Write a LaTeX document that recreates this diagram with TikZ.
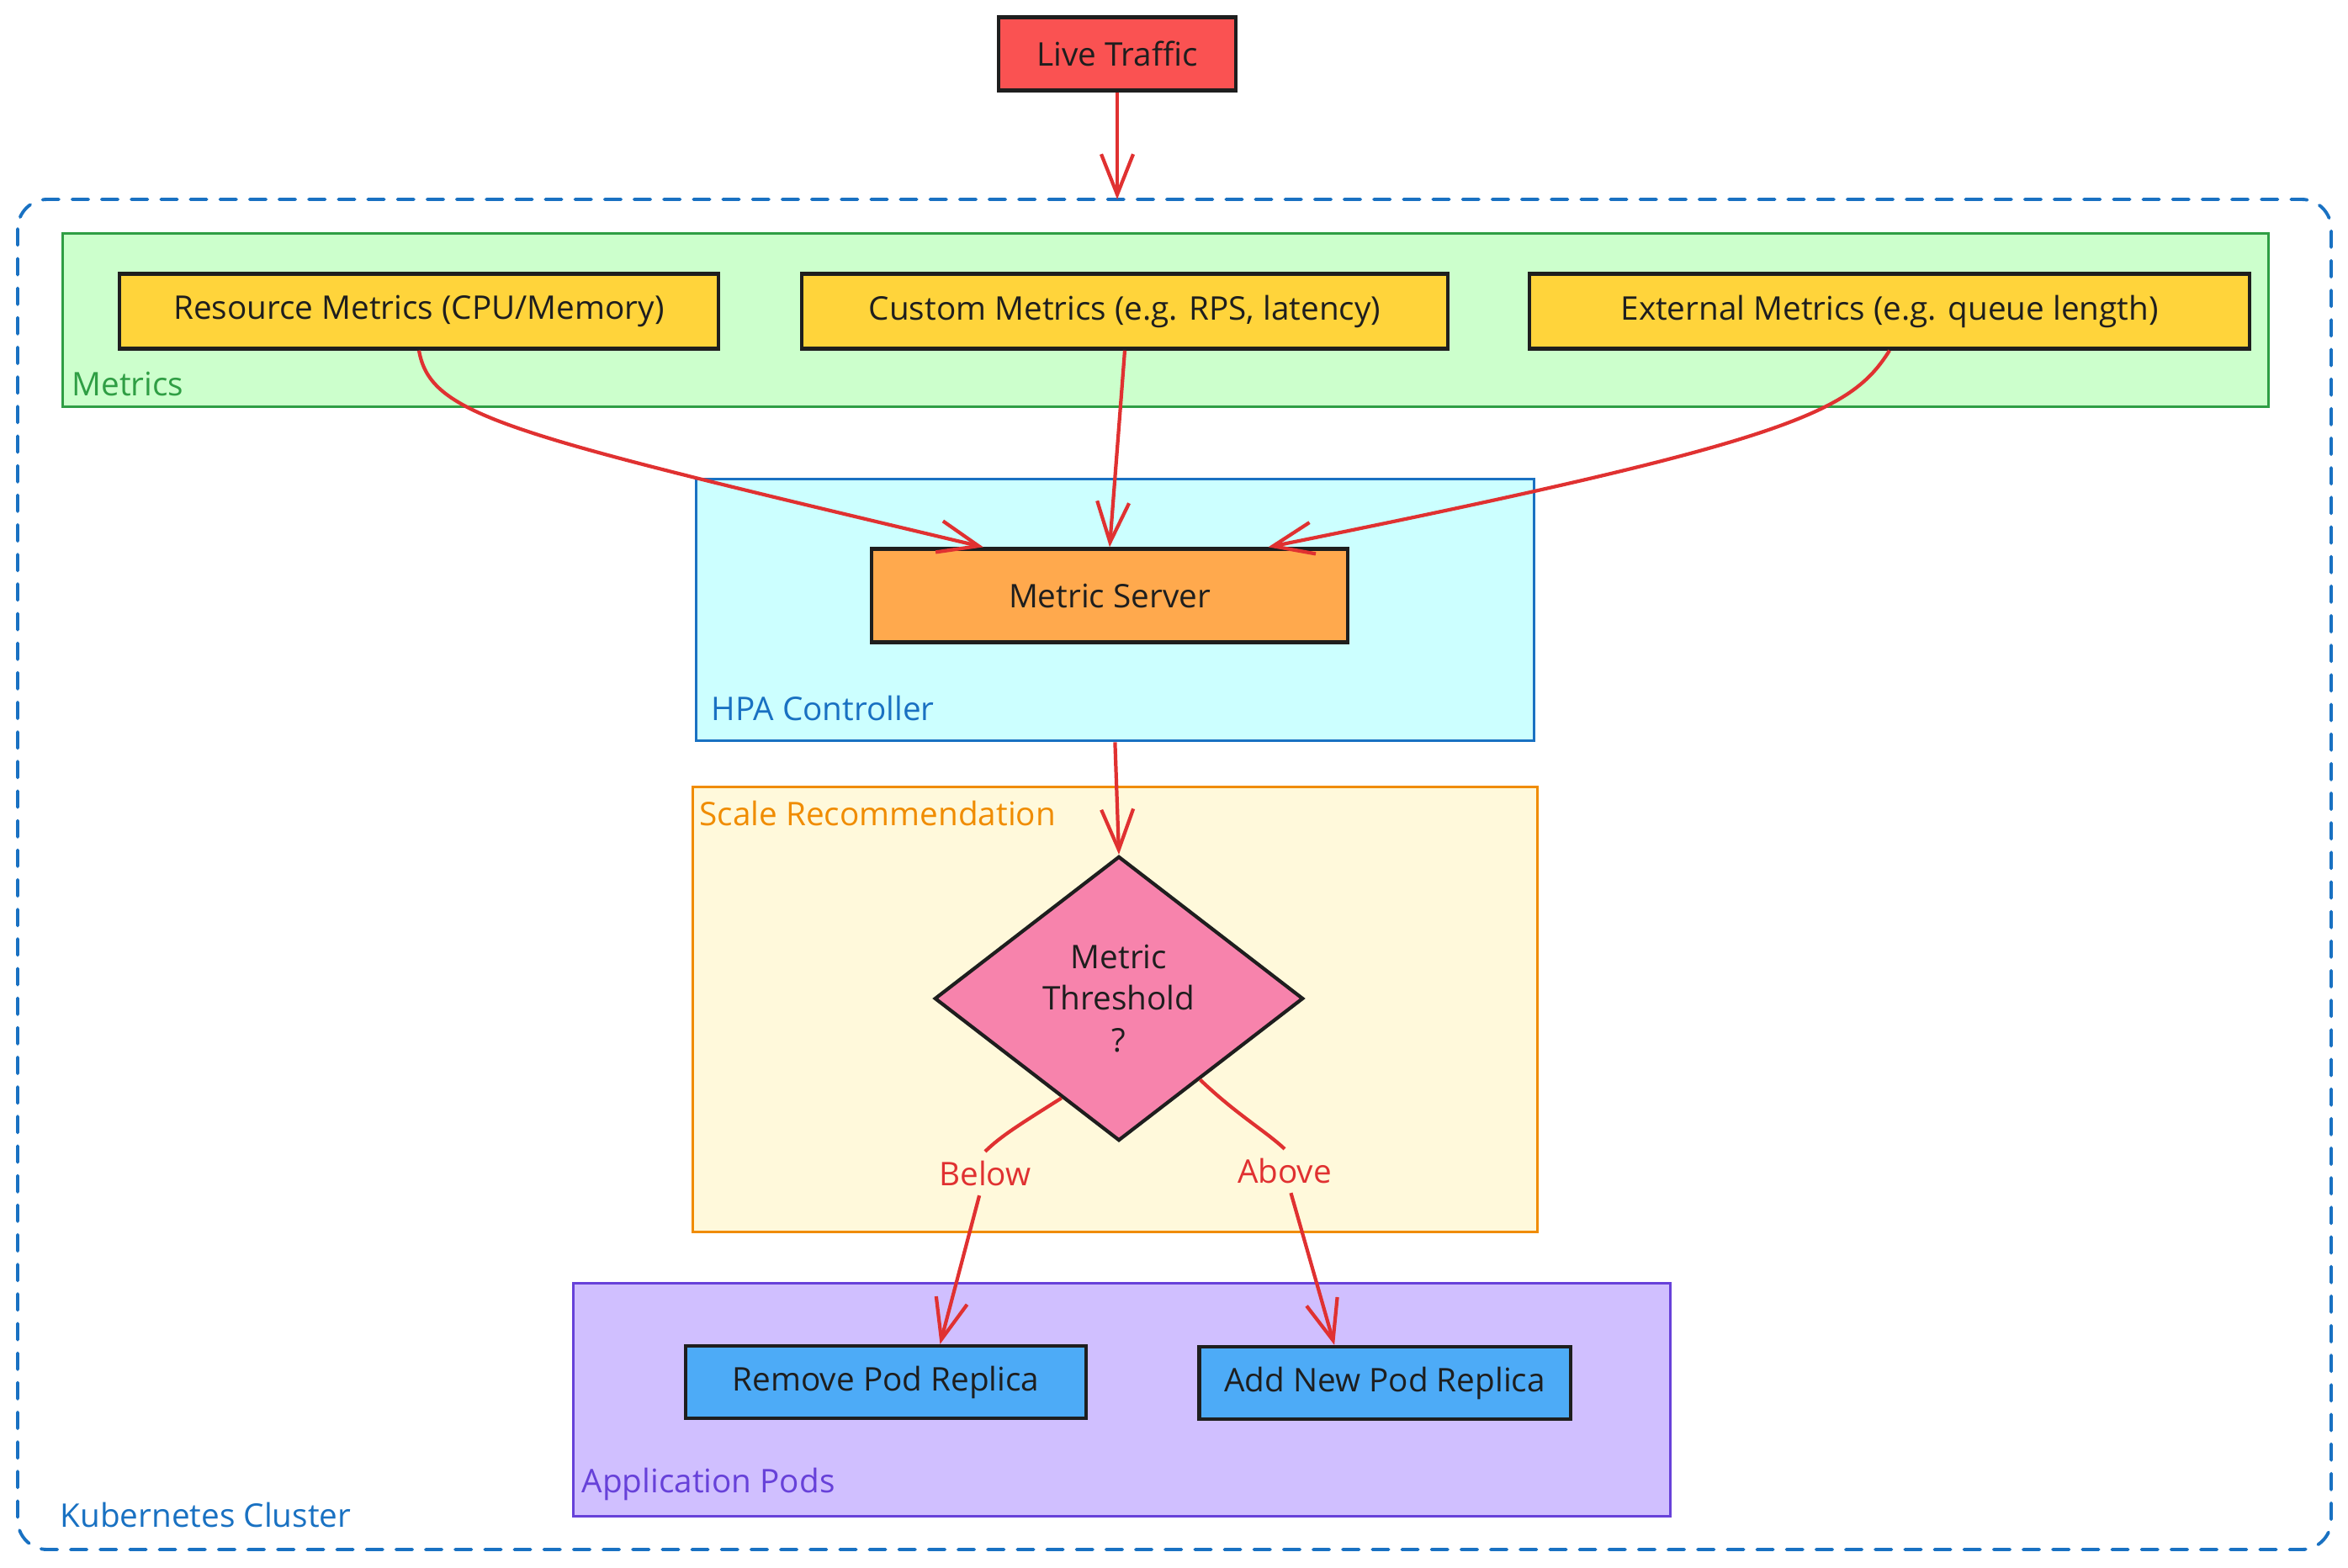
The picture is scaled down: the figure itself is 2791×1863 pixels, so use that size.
\documentclass[tikz,border=0pt]{standalone}
\usepackage{fontspec}
\setmainfont{Open Sans}
\usetikzlibrary{arrows.meta}
\usetikzlibrary{shapes.geometric}

\definecolor{inkBlack}{HTML}{1E1E1E}
\definecolor{arrowRed}{HTML}{E03131}
\definecolor{trafficRed}{HTML}{FA5252}
\definecolor{metricYellow}{HTML}{FFD43B}
\definecolor{serverOrange}{HTML}{FFA94D}
\definecolor{thresholdPink}{HTML}{F783AC}
\definecolor{podBlue}{HTML}{4DABF7}
\definecolor{clusterBlue}{HTML}{1971C2}
\definecolor{metricsGreen}{HTML}{2F9E44}
\definecolor{metricsFill}{HTML}{CCFFCC}
\definecolor{hpaFill}{HTML}{CCFFFF}
\definecolor{scaleOrange}{HTML}{F08C00}
\definecolor{scaleFill}{HTML}{FFF9DB}
\definecolor{podsViolet}{HTML}{6741D9}
\definecolor{podsFill}{HTML}{D0BFFF}

\tikzset{
	sketchBox/.style={draw=inkBlack, line width=1.2pt, inner sep=0pt, text=inkBlack, font=\fontsize{11}{14}\selectfont},
	groupBox/.style={line width=0.9pt, inner sep=0pt, anchor=north west},
	groupLabel/.style={anchor=west, inner sep=0pt, font=\fontsize{11}{14}\selectfont},
	flowArrow/.style={draw=arrowRed, line width=1.2pt, -{Straight Barb[length=4.8mm, width=3.8mm, line width=1.2pt]}},
	branchLabel/.style={text=arrowRed, inner sep=3pt, font=\fontsize{11}{14}\selectfont}
}

\begin{document}
\begin{tikzpicture}[x=0.01cm, y=-0.01cm]

	\useasboundingbox (0,0) rectangle (2791,1863);

	%cluster outline, dashed with round corners
	\draw[clusterBlue, line width=1.1pt, dash pattern=on 5.5pt off 4.5pt, line cap=round, rounded corners=10pt] (21,237) rectangle (2771,1842);
	\node[groupLabel, text=clusterBlue] (clusterLabel) at (71,1801) {Kubernetes Cluster};
	\coordinate (clusterTop) at (1328,237);

	%group frames
	\node[groupBox, draw=metricsGreen, fill=metricsFill, minimum width=26.2cm, minimum height=2.06cm] (metricsGroup) at (73,276) {};
	\node[groupBox, draw=clusterBlue, fill=hpaFill, minimum width=9.95cm, minimum height=3.11cm] (hpaGroup) at (826,568) {};
	\node[groupBox, draw=scaleOrange, fill=scaleFill, minimum width=10.03cm, minimum height=5.29cm] (scaleGroup) at (822,934) {};
	\node[groupBox, draw=podsViolet, fill=podsFill, minimum width=13.03cm, minimum height=2.77cm] (podsGroup) at (680,1524) {};
	%group labels
	\node[groupLabel, text=metricsGreen] (metricsLabel) at (85,456) {Metrics};
	\node[groupLabel, text=clusterBlue] (hpaLabel) at (845,842) {HPA Controller};
	\node[groupLabel, text=scaleOrange] (scaleLabel) at (831,967) {Scale Recommendation};
	\node[groupLabel, text=podsViolet] (podsLabel) at (691,1764) {Application Pods};

	%boxes
	\node[sketchBox, fill=trafficRed, minimum width=2.82cm, minimum height=0.87cm] (liveTraffic) at (1328,64) {Live Traffic};
	\node[sketchBox, fill=metricYellow, minimum width=7.12cm, minimum height=0.89cm] (resourceMetrics) at (498,370) {Resource Metrics (CPU/Memory)};
	\node[sketchBox, fill=metricYellow, minimum width=7.67cm, minimum height=0.89cm] (customMetrics) at (1337,370) {Custom Metrics (e.g. RPS, latency)};
	\node[sketchBox, fill=metricYellow, minimum width=8.55cm, minimum height=0.89cm] (externalMetrics) at (2246,370) {External Metrics (e.g. queue length)};
	\node[sketchBox, fill=serverOrange, minimum width=5.66cm, minimum height=1.11cm] (metricServer) at (1319,708) {Metric Server};
	\node[sketchBox, diamond, fill=thresholdPink, minimum width=4.38cm, minimum height=3.38cm, align=center] (threshold) at (1330,1187) {Metric\\Threshold\\?};
	\node[sketchBox, fill=podBlue, minimum width=4.76cm, minimum height=0.86cm] (removePod) at (1053,1643) {Remove Pod Replica};
	\node[sketchBox, fill=podBlue, minimum width=4.41cm, minimum height=0.86cm] (addPod) at (1646,1644) {Add New Pod Replica};

	%branch labels
	\node[branchLabel] (belowLabel) at (1171,1395) {Below};
	\node[branchLabel] (aboveLabel) at (1527,1392) {Above};

	%connectors
	\draw[flowArrow] (liveTraffic) -- (clusterTop);
	\draw[flowArrow] (resourceMetrics.south) .. controls (512,495) and (600,515) .. (metricServer.159);
	\draw[flowArrow] (customMetrics.south) -- (metricServer.north);
	\draw[flowArrow] (externalMetrics.south) .. controls (2200,490) and (2130,525) .. (metricServer.17);
	\draw[flowArrow] (hpaGroup.south) -- (threshold.north);
	\draw[flowArrow] (threshold.240) .. controls (1215,1335) and (1190,1350) .. (belowLabel.north) (belowLabel) -- (removePod.35);
	\draw[flowArrow] (threshold.315) .. controls (1470,1325) and (1505,1345) .. (aboveLabel.north) (aboveLabel) -- (addPod.143);

\end{tikzpicture}
\end{document}
